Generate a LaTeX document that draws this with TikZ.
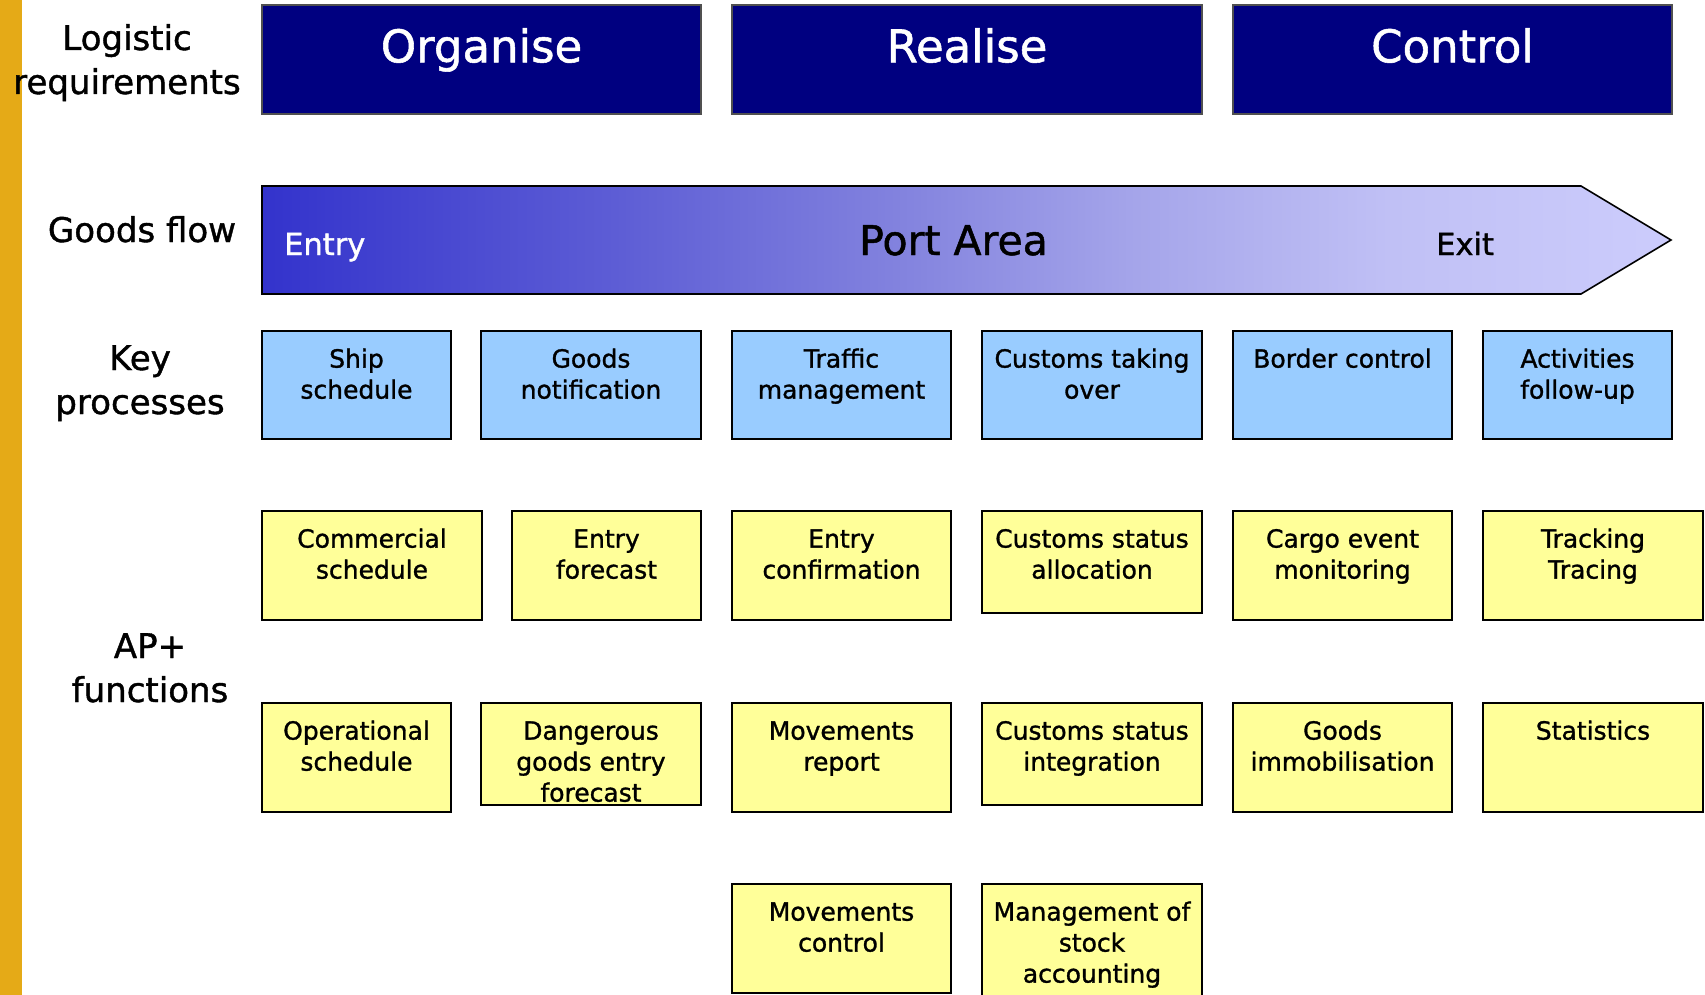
\documentclass[tikz,border=0pt]{standalone}
\usepackage{fontspec}
\setmainfont{DejaVu Sans}[FakeBold=1.2]
\usetikzlibrary{calc}
\definecolor{gold}{RGB}{229,170,23}
\definecolor{navyhdr}{RGB}{0,0,128}
\definecolor{kpblue}{RGB}{153,204,255}
\definecolor{apyellow}{RGB}{255,255,153}
\definecolor{fA}{RGB}{51,51,204}
\definecolor{fB}{RGB}{93,93,213}
\definecolor{fC}{RGB}{130,130,222}
\definecolor{fD}{RGB}{165,165,234}
\definecolor{fE}{RGB}{192,192,245}
\definecolor{fF}{RGB}{204,204,252}
\definecolor{hdrborder}{RGB}{80,80,80}
\pgfdeclarehorizontalshading{flowshade}{100bp}{color(0bp)=(fA); color(25bp)=(fA); color(37.5bp)=(fB); color(47.5bp)=(fC); color(56bp)=(fD); color(65bp)=(fE); color(75bp)=(fF); color(100bp)=(fF)}
\newcommand\boxfont{\fontsize{25}{31}\selectfont}
\newcommand\lblfont{\fontsize{34}{44}\selectfont}
% name, style, x1, y1, x2, y2, text
\newcommand\mkbox[7]{%
  \node[#2, anchor=north west, minimum width={#5-#3}, minimum height={#6-#4}] (#1) at (#3,#4) {};
  \node[boxtext] (#1-t) at ([yshift=-36.6pt]#1.north) {\begin{tabular}[t]{@{}c@{}}#7\end{tabular}};
}
\newcommand\mkhdr[6]{%
  \node[hdr, anchor=north west, minimum width={#4-#2}, minimum height={#5-#3}] (#1) at (#2,#3) {};
  \node[hdrtext] (#1-t) at ([yshift=-57.3pt]#1.north) {#6};
}
\begin{document}
\begin{tikzpicture}[x=1pt, y=-1pt,
  boxbase/.style={rectangle, inner sep=0pt, outer sep=0pt, line width=1.6pt, draw=black},
  kp/.style={boxbase, fill=kpblue},
  ap/.style={boxbase, fill=apyellow},
  hdr/.style={boxbase, fill=navyhdr, draw=hdrborder},
  boxtext/.style={anchor=base, inner sep=0pt, font=\boxfont, text=black},
  hdrtext/.style={anchor=base, inner sep=0pt, font=\fontsize{45}{54}\selectfont, text=white},
  rowlabel/.style={anchor=base, inner sep=0pt, font=\lblfont, text=black},
  flowtext/.style={anchor=base west, inner sep=0pt},
]
\useasboundingbox (0,0) rectangle (1705,995);
\fill[white] (0,0) rectangle (1705,995);
\fill[gold] (0,0) rectangle (22,995);

% row labels
\node[rowlabel] (lr) at (127,50) {\begin{tabular}[t]{@{}c@{}}Logistic\\requirements\end{tabular}};
\node[rowlabel] (gf) at (142,242) {Goods flow};
\node[rowlabel] (kpl) at (140,370) {\begin{tabular}[t]{@{}c@{}}Key\\processes\end{tabular}};
\node[rowlabel] (apl) at (150,658) {\begin{tabular}[t]{@{}c@{}}AP+\\functions\end{tabular}};

% headers
\mkhdr{org}{262}{5}{701}{114}{Organise}
\mkhdr{rea}{732}{5}{1202}{114}{Realise}
\mkhdr{con}{1233}{5}{1672}{114}{Control}

% goods flow arrow
\coordinate (aNW) at (262,186);
\coordinate (aNE) at (1581,186);
\coordinate (aTip) at (1671,240);
\coordinate (aSE) at (1581,294);
\coordinate (aSW) at (262,294);
\path[draw=black, line width=1.6pt, shading=flowshade]
  (aNW) -- (aNE) -- (aTip) -- (aSE) -- (aSW) -- cycle;
\node[flowtext, text=white, font=\fontsize{30.5}{36}\selectfont] (entry) at (284,255) {Entry};
\node[flowtext, text=black, font=\fontsize{41}{48}\selectfont] (port) at (859,255) {Port Area};
\node[flowtext, text=black, font=\fontsize{30.5}{36}\selectfont] (exit) at (1436,255) {Exit};

% key processes
\mkbox{kp1}{kp}{262}{331}{451}{439}{Ship\\schedule}
\mkbox{kp2}{kp}{481}{331}{701}{439}{Goods\\notification}
\mkbox{kp3}{kp}{732}{331}{951}{439}{Traffic\\management}
\mkbox{kp4}{kp}{982}{331}{1202}{439}{Customs taking\\over}
\mkbox{kp5}{kp}{1233}{331}{1452}{439}{Border control}
\mkbox{kp6}{kp}{1483}{331}{1672}{439}{Activities\\follow-up}

% AP+ row 1
\mkbox{a1}{ap}{262}{511}{482}{620}{Commercial\\schedule}
\mkbox{a2}{ap}{512}{511}{701}{620}{Entry\\forecast}
\mkbox{a3}{ap}{732}{511}{951}{620}{Entry\\confirmation}
\mkbox{a4}{ap}{982}{511}{1202}{613}{Customs status\\allocation}
\mkbox{a5}{ap}{1233}{511}{1452}{620}{Cargo event\\monitoring}
\mkbox{a6}{ap}{1483}{511}{1703}{620}{Tracking\\Tracing}

% AP+ row 2
\mkbox{b1}{ap}{262}{703}{451}{812}{Operational\\schedule}
\mkbox{b2}{ap}{481}{703}{701}{805}{Dangerous\\goods entry\\forecast}
\mkbox{b3}{ap}{732}{703}{951}{812}{Movements\\report}
\mkbox{b4}{ap}{982}{703}{1202}{805}{Customs status\\integration}
\mkbox{b5}{ap}{1233}{703}{1452}{812}{Goods\\immobilisation}
\mkbox{b6}{ap}{1483}{703}{1703}{812}{Statistics}

% AP+ row 3
\mkbox{c1}{ap}{732}{884}{951}{993}{Movements\\control}
\mkbox{c2}{ap}{982}{884}{1202}{1010}{Management of\\stock\\accounting}
\end{tikzpicture}
\end{document}
